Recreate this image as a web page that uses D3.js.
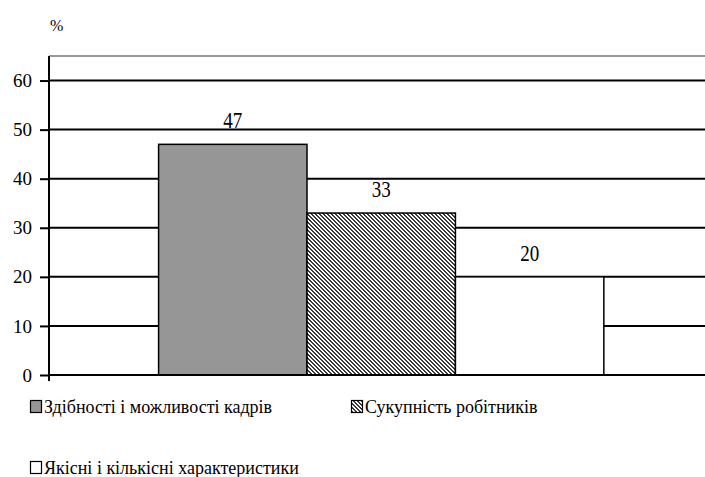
<!DOCTYPE html>
<html><head><meta charset="utf-8">
<script src="https://cdn.jsdelivr.net/npm/d3@7/dist/d3.min.js"></script></head>
<body style="margin:0">
<script>
  // Data
  const seriesNames = [
    "Здібності і можливості кадрів",
    "Сукупність робітників",
    "Якісні і кількісні характеристики"
  ];
  const seriesValues = [47, 33, 20];
  const yTicks = [0, 10, 20, 30, 40, 50, 60];
  const yMax = 65;
  const unitLabel = "%";

  const width = 705;
  const height = 477;
  const margin = { top: 56, right: 0, bottom: 102, left: 49 };
  const plotW = width - margin.left - margin.right;
  const plotH = height - margin.top - margin.bottom;
  const serif = '"Liberation Serif"';

  const fills = ["#969696", "url(#hatch)", "#ffffff"];

  const svg = d3.select("body").append("svg")
    .attr("width", width)
    .attr("height", height)
    .style("display", "block");

  // fine diagonal hatch for the second series (pixel tile)
  const defs = svg.append("defs");
  const pat = defs.append("pattern")
    .attr("id", "hatch")
    .attr("patternUnits", "userSpaceOnUse")
    .attr("width", 4)
    .attr("height", 4);
  pat.append("rect").attr("width", 4).attr("height", 4).attr("fill", "#ffffff");
  d3.range(4).forEach(i => {
    [i, (i + 1) % 4].forEach(j => {
      pat.append("rect")
        .attr("x", j).attr("y", i)
        .attr("width", 1).attr("height", 1)
        .attr("fill", "#3a3a3a")
        .attr("shape-rendering", "crispEdges");
    });
  });

  const g = svg.append("g")
    .attr("transform", `translate(${margin.left},${margin.top})`);

  const y = d3.scaleLinear().domain([0, yMax]).range([plotH, 0]);
  const x = d3.scaleBand()
    .domain(seriesNames)
    .range([0, plotW])
    .paddingInner(0)
    .paddingOuter(0.71)
    .align(0.52);

  // plot area top border
  g.append("line")
    .attr("x1", 0).attr("x2", plotW)
    .attr("y1", y(yMax)).attr("y2", y(yMax))
    .attr("stroke", "#999")
    .attr("stroke-width", 2);

  // gridlines
  g.selectAll(".grid")
    .data(yTicks)
    .enter()
    .append("line")
    .attr("class", "grid")
    .attr("x1", 0).attr("x2", plotW)
    .attr("y1", d => y(d)).attr("y2", d => y(d))
    .attr("stroke", "#000")
    .attr("stroke-width", 2);

  // bars
  g.selectAll(".bar")
    .data(seriesValues)
    .enter()
    .append("rect")
    .attr("class", "bar")
    .attr("x", (d, i) => x(seriesNames[i]))
    .attr("y", d => y(d))
    .attr("width", x.bandwidth())
    .attr("height", d => y(0) - y(d))
    .attr("fill", (d, i) => fills[i])
    .attr("stroke", "#000")
    .attr("stroke-width", 1.5);

  // baseline on top of bars
  g.append("line")
    .attr("x1", 0).attr("x2", plotW)
    .attr("y1", y(0)).attr("y2", y(0))
    .attr("stroke", "#000")
    .attr("stroke-width", 2);

  // value labels
  g.selectAll(".val")
    .data(seriesValues)
    .enter()
    .append("text")
    .attr("class", "val")
    .attr("transform", (d, i) =>
      `translate(${x(seriesNames[i]) + x.bandwidth() / 2},${y(d) - 16}) scale(1,1.25)`)
    .attr("text-anchor", "middle")
    .style("font-family", serif)
    .attr("font-size", "19px")
    .attr("fill", "#000")
    .text(d => d);

  // y axis
  const yAxis = g.append("g")
    .call(d3.axisLeft(y).tickValues(yTicks).tickSize(9).tickPadding(8).tickFormat(d3.format("d")))
    .attr("font-family", null)
    .attr("font-size", null);
  yAxis.select(".domain").remove();
  yAxis.selectAll(".tick line").attr("stroke", "#000").attr("stroke-width", 2);
  yAxis.selectAll(".tick text")
    .style("font-family", serif)
    .attr("font-size", "19px")
    .attr("fill", "#000");

  g.append("line")
    .attr("x1", 0).attr("x2", 0)
    .attr("y1", y(yMax)).attr("y2", y(0) + 6)
    .attr("stroke", "#000")
    .attr("stroke-width", 2);

  // unit label
  svg.append("text")
    .attr("x", 50)
    .attr("y", 31)
    .style("font-family", serif)
    .attr("font-size", "16px")
    .attr("fill", "#000")
    .text(unitLabel);

  // legend
  const legendPos = [[30, 413], [351, 413], [30, 474]];
  seriesNames.forEach((name, i) => {
    const [lx, ly] = legendPos[i];
    svg.append("rect")
      .attr("x", lx + 0.5)
      .attr("y", ly - 12.5)
      .attr("width", 11)
      .attr("height", 12)
      .attr("fill", fills[i])
      .attr("stroke", "#000")
      .attr("stroke-width", 1.2);
    svg.append("text")
      .attr("x", lx + 14)
      .attr("y", ly)
      .style("font-family", serif)
      .attr("font-size", "18px")
      .attr("fill", "#000")
      .text(name);
  });
</script>
</body></html>
